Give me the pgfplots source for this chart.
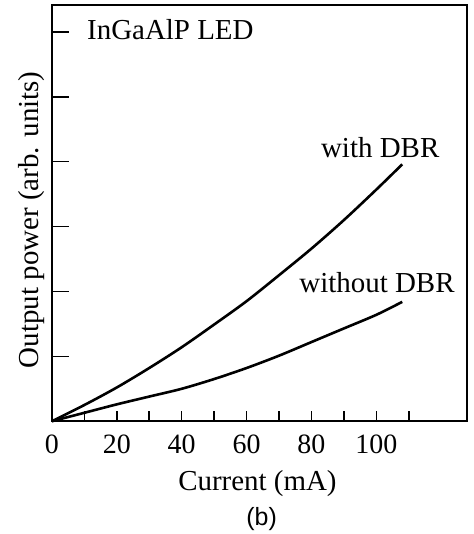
\documentclass[border=0pt]{standalone}
\usepackage{pgfplots}
\pgfplotsset{compat=1.18}
\usepackage{fontspec}
\setmainfont{Liberation Serif}
\setsansfont{Liberation Sans}

\begin{document}
\begin{tikzpicture}
\begin{axis}[
  scale only axis,
  width=416pt, height=417pt,
  xmin=0, xmax=128, ymin=0, ymax=6.415,
  axis line style={line width=1.8pt},
  tick align=inside,
  xtick={0,20,...,100},
  minor xtick={10,30,...,120},
  major tick length=10pt, minor tick length=10pt,
  xtick pos=bottom,
  ytick=\empty,
  extra y ticks={1,2,3,4,5,6},
  extra y tick labels={},
  extra tick style={major tick length=17pt, ytick pos=left},
  every tick/.style={black, line width=1.5pt},
  /pgf/number format/assume math mode=true,
  tick label style={font=\fontsize{28}{30}\selectfont},
  xticklabel style={yshift=-10pt},
  xlabel={Current (mA)},
  xlabel style={font=\fontsize{29}{30}\selectfont, at={(axis description cs:0.495,0)}, anchor=center, yshift=-62pt},
  ylabel={Output power (arb. units)},
  ylabel style={font=\fontsize{29}{30}\selectfont, at={(axis description cs:-0.05,0.484)}, anchor=center},
  clip=false,
]
% with DBR
\addplot[black, line width=2.6pt, smooth] coordinates {
  (0,0) (10,0.25) (20,0.52) (30,0.82) (40,1.14) (50,1.49) (60,1.85)
  (70,2.25) (80,2.66) (90,3.10) (100,3.57) (108,3.96)
};
% without DBR
\addplot[black, line width=2.6pt, smooth] coordinates {
  (0,0) (10,0.13) (20,0.26) (30,0.38) (40,0.50) (50,0.65) (60,0.82)
  (70,1.01) (80,1.22) (90,1.43) (100,1.64) (108,1.84)
};
\node[anchor=west, inner sep=0pt, font=\fontsize{29}{30}\selectfont] at (axis cs:10.8,6.03) {InGaAlP LED};
\node[inner sep=0pt, font=\fontsize{29}{30}\selectfont] at (axis cs:101.2,4.21) {with DBR};
\node[inner sep=0pt, font=\fontsize{29}{30}\selectfont] at (axis cs:100.2,2.14) {without DBR};
\node[font=\sffamily\fontsize{25}{26}\selectfont] at (rel axis cs:0.505,0) [yshift=-98pt] {(b)};
\end{axis}
\path (current axis.south west) ++(-52pt,-112pt);
\path (current axis.north east) ++(6pt,5pt);
\end{tikzpicture}
\end{document}
